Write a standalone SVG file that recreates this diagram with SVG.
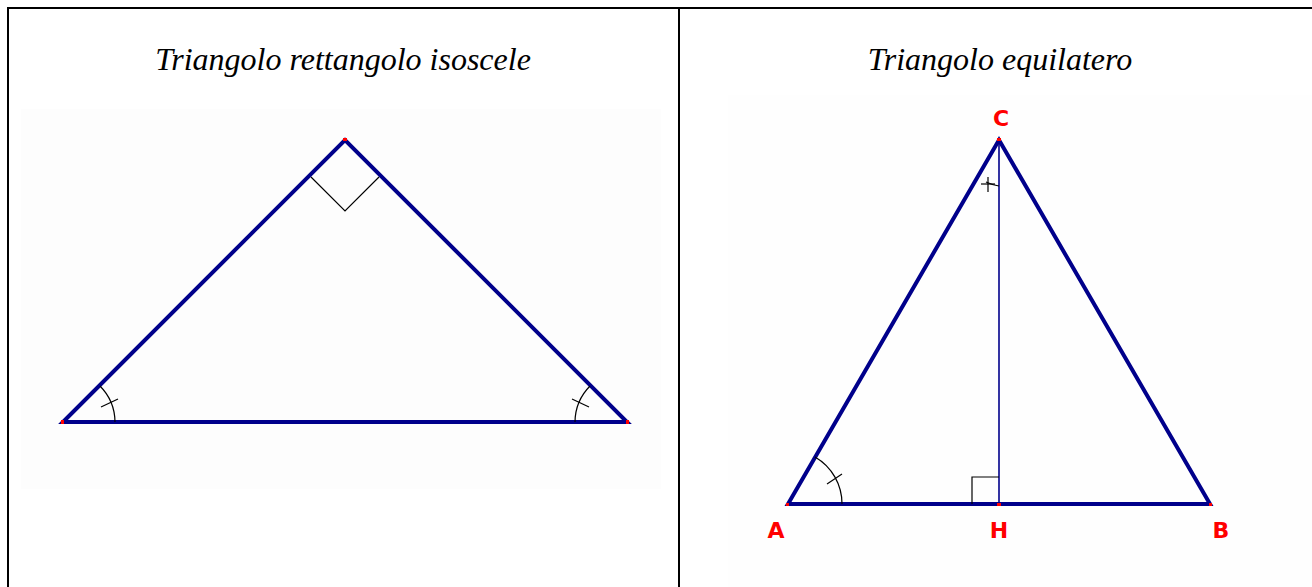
<svg xmlns="http://www.w3.org/2000/svg" width="1312" height="587" viewBox="0 0 1312 587">
<style>
.title{font-family:"Liberation Serif","Times New Roman",serif;font-style:italic;font-size:32px;fill:#000;text-anchor:middle}
.lbl{font-family:"DejaVu Sans","Liberation Sans",sans-serif;font-weight:bold;font-size:22px;fill:#ff0000;text-anchor:middle}
.side{stroke:#00008b;stroke-width:4;fill:none;stroke-linecap:butt}
.thin{stroke:#00008b;stroke-width:1.6;fill:none}
.mark{stroke:#000;stroke-width:1.2;fill:none}
.frame{stroke:#000;stroke-width:2;fill:none}
.pt{fill:#ff0000}
</style>
<rect width="1312" height="587" fill="#fff"/>
<g id="frame">
<line class="frame" x1="7" y1="8" x2="1312" y2="8"/>
<line class="frame" x1="8" y1="7" x2="8" y2="587"/>
<line class="frame" x1="679" y1="7" x2="679" y2="587"/>
</g>
<g id="left-panel">
<rect x="21" y="109" width="640" height="380" fill="#fdfdfd"/>
<text class="title" x="343" y="70">Triangolo rettangolo isoscele</text>
<polygon class="side" points="63,422 345,140 627,422" stroke-linejoin="miter"/>
<polyline class="mark" points="311,177 345,211 379,177"/>
<path class="mark" d="M100,386 A52,52 0 0 1 115,422"/>
<line class="mark" x1="101" y1="407" x2="118" y2="399"/>
<path class="mark" d="M590,386 A52,52 0 0 0 575,422"/>
<line class="mark" x1="572" y1="399" x2="589" y2="407"/>
<rect class="pt" x="61" y="420" width="3" height="4"/>
<rect class="pt" x="626" y="420" width="3" height="4"/>
<rect class="pt" x="343" y="138" width="4" height="3"/>
</g>
<g id="right-panel">
<rect x="728" y="95" width="584" height="492" fill="#fefefe"/>
<text class="title" x="1000" y="70">Triangolo equilatero</text>
<polygon class="side" points="788,504 999,140 1210,504"/>
<line class="thin" x1="999" y1="140" x2="999" y2="504"/>
<polyline class="mark" points="972,504 972,477 999,477"/>
<path class="mark" d="M815,457 A54,54 0 0 1 842,504"/>
<line class="mark" x1="827" y1="484" x2="842" y2="474"/>
<path class="mark" d="M986,182 A45,45 0 0 0 999,186"/>
<line class="mark" x1="988" y1="177" x2="988" y2="192"/>
<line class="mark" x1="981" y1="184" x2="995" y2="184"/>
<rect class="pt" x="997" y="138" width="4" height="3"/>
<rect class="pt" x="997" y="503" width="4" height="3"/>
<rect class="pt" x="786" y="503" width="3" height="3"/>
<rect class="pt" x="1209" y="503" width="3" height="3"/>
<text class="lbl" x="1001" y="126">C</text>
<text class="lbl" x="776" y="538">A</text>
<text class="lbl" x="999" y="538">H</text>
<text class="lbl" x="1221" y="538">B</text>
</g>
</svg>
